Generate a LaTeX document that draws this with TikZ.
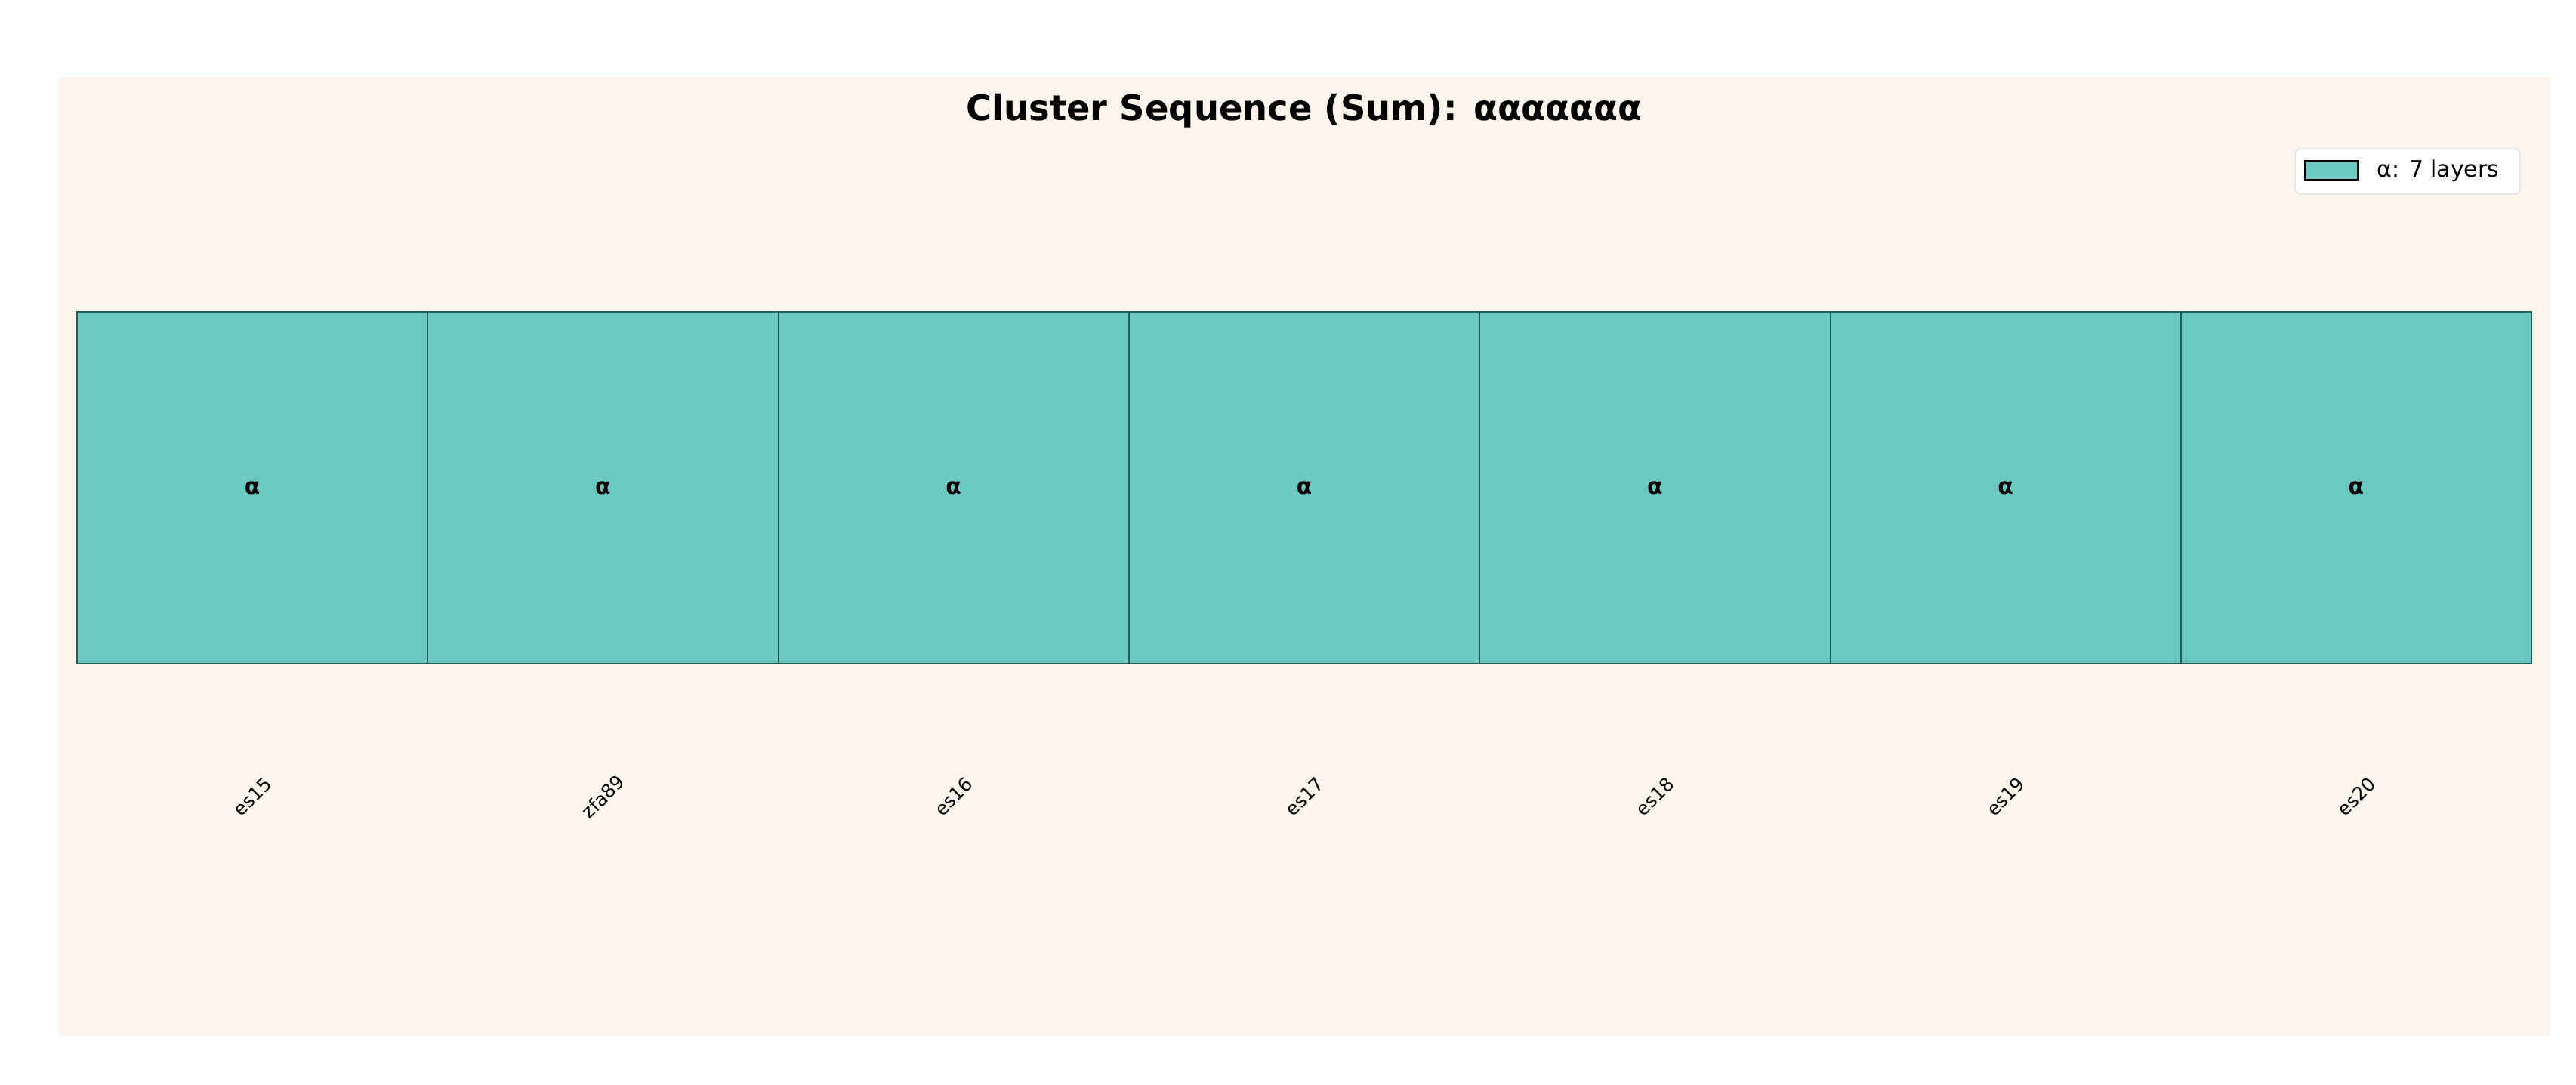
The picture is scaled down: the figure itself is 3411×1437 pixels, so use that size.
\documentclass[tikz,border=0pt]{standalone}
\usepackage{fontspec}
\setmainfont{DejaVu Sans}
\definecolor{cream}{HTML}{FBF5EE}
\definecolor{tealfill}{HTML}{6CC8C2}
\definecolor{tealedge}{HTML}{1F5F5A}
\tikzset{
  layerbox/.style={draw=tealedge, line width=0.5pt, fill=tealfill, minimum width=464.3*0.01cm, minimum height=466*0.01cm, inner sep=0pt, font=\bfseries\fontsize{8.5}{10}\selectfont},
  ticklab/.style={rotate=45, font=\fontsize{7}{8}\selectfont, inner sep=0pt},
}
\begin{document}
\begin{tikzpicture}[x=0.01cm,y=-0.01cm]
\useasboundingbox (0,0) rectangle (3411,1437);
\fill[white] (0,0) rectangle (3411,1437);
\fill[cream] (78,102) rectangle (3376,1372);
\node[font=\bfseries\fontsize{13.2}{16}\selectfont] (title) at (1727,147) {Cluster Sequence (Sum): ααααααα};
\foreach \lab [count=\i from 0] in {es15,zfa89,es16,es17,es18,es19,es20} {
  \node[layerbox] (b\i) at ({102+464.3*(\i+0.5)},646) {α};
  \node[ticklab] (t\i) at ({102+464.3*(\i+0.5)},1055) {\lab};
}
\node[draw=black!12, fill=white, rounded corners=2pt, minimum width=298*0.01cm, minimum height=60*0.01cm, inner sep=0pt] (leg) at (3188,227) {};
\node[draw=black, line width=0.6pt, fill=tealfill, minimum width=70*0.01cm, minimum height=25*0.01cm, inner sep=0pt] (legpatch) at (3087,226) {};
\node[anchor=west, font=\fontsize{8.5}{10}\selectfont, inner sep=0pt] (legtext) at (3147,226) {α: 7 layers};
\end{tikzpicture}
\end{document}
